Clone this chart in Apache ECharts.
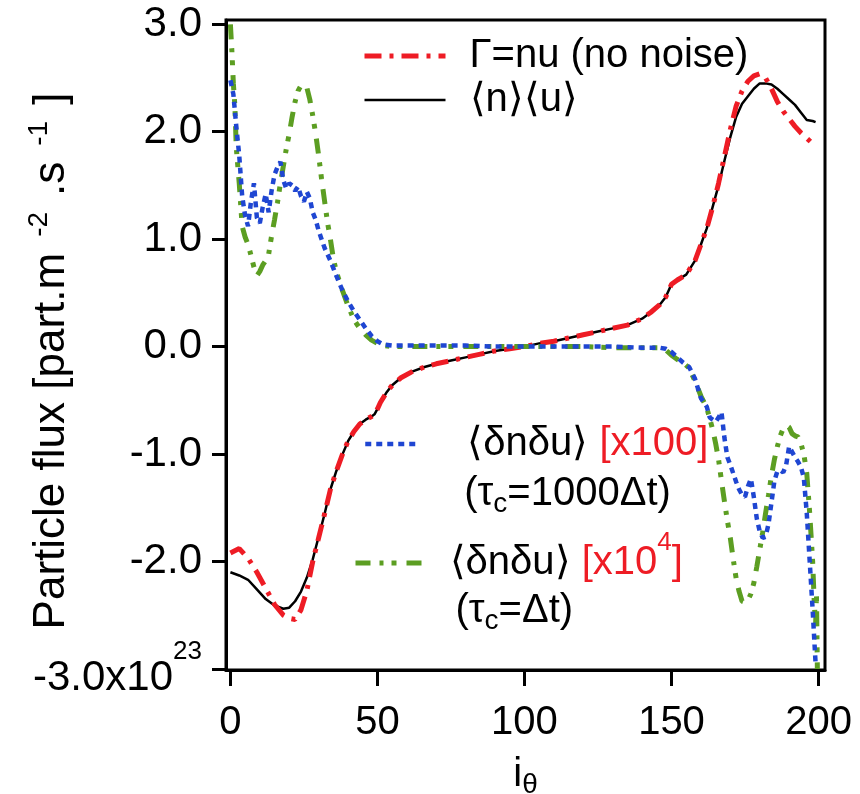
<!DOCTYPE html>
<html>
<head>
<meta charset="utf-8">
<script src="https://cdn.jsdelivr.net/npm/echarts@6/dist/echarts.min.js"></script>
<style>
  html, body { margin: 0; padding: 0; background: #fff; }
  #chart { width: 860px; height: 794px; }
</style>
</head>
<body>
<div id="chart"></div>
<script>
// i_theta positions for the two smooth mean-flux curves
const thetaMean = [0, 3, 6, 9, 12, 15, 18,
  20, 22, 24, 26, 28, 30, 32, 34, 36, 38, 40, 42, 44, 46, 48,
  49, 50, 51, 53, 55, 58, 62, 66, 70, 75, 80, 85, 90, 95, 100,
  105, 110, 115, 120, 125, 130, 135, 140, 143, 146, 148, 149, 150, 152, 155, 158, 160,
  162, 164, 166, 168, 170, 172, 174, 176, 178, 180, 182, 184, 186, 188, 190, 192, 194, 196, 198, 199]

// Gamma = nu (no noise)
const fluxNoNoise = [-1.92, -1.88, -1.97, -2.10, -2.25, -2.40, -2.50,
  -2.53, -2.54, -2.45, -2.27, -2.00, -1.78, -1.56, -1.33, -1.16, -1.01, -0.88, -0.79, -0.72, -0.68, -0.65,
  -0.63, -0.58, -0.52, -0.43, -0.36, -0.29, -0.23, -0.19, -0.16, -0.13, -0.10, -0.07, -0.04, -0.02, 0.00,
  0.03, 0.05, 0.08, 0.11, 0.14, 0.17, 0.20, 0.26, 0.32, 0.39, 0.46, 0.52, 0.58, 0.62, 0.67, 0.80, 0.95,
  1.10, 1.30, 1.52, 1.77, 2.02, 2.24, 2.38, 2.47, 2.52, 2.54, 2.50, 2.40, 2.28, 2.19, 2.12, 2.05, 1.99, 1.94, 1.89, 1.89]

// <n><u>
const fluxMean = [-2.10, -2.13, -2.17, -2.26, -2.35, -2.41, -2.44,
  -2.43, -2.37, -2.28, -2.15, -1.98, -1.77, -1.56, -1.33, -1.16, -1.01, -0.88, -0.79, -0.72, -0.68, -0.65,
  -0.63, -0.58, -0.52, -0.43, -0.36, -0.29, -0.23, -0.19, -0.16, -0.13, -0.10, -0.07, -0.04, -0.02, 0.00,
  0.03, 0.05, 0.08, 0.11, 0.14, 0.17, 0.20, 0.26, 0.32, 0.39, 0.46, 0.52, 0.58, 0.62, 0.67, 0.80, 0.95,
  1.10, 1.30, 1.50, 1.73, 1.95, 2.14, 2.26, 2.33, 2.40, 2.45, 2.45, 2.44, 2.40, 2.35, 2.30, 2.25, 2.18, 2.11, 2.10, 2.09]

// <dn du> x100, tau_c = 1000 dt
const thetaTau1000 = [0, 1, 2, 3, 4, 5, 6, 7, 8, 9,
  10, 11, 12, 13, 14, 15, 16, 17, 18, 19,
  20, 21, 22, 23, 24, 25, 26, 27, 28, 29,
  30, 31, 32,
  34, 36, 38, 40, 42, 44, 46, 48, 50, 52,
  55, 60, 70, 80, 90, 100, 110, 120, 130, 140,
  146, 148, 150, 152, 154, 156, 158, 160, 162,
  163, 164, 165, 166, 167, 168, 169, 170, 171, 172,
  173, 174, 175, 176, 177, 178, 179, 180, 181, 182,
  183, 184, 185, 186, 187, 188, 189, 190, 191, 192,
  193, 194, 195, 196, 197, 198, 199]
const fluxTau1000 = [2.48, 2.35, 2.05, 1.78, 1.40, 1.22, 1.12, 1.35, 1.52, 1.20,
  1.15, 1.30, 1.42, 1.25, 1.45, 1.60, 1.67, 1.72, 1.55, 1.47,
  1.52, 1.50, 1.45, 1.49, 1.40, 1.35, 1.44, 1.38, 1.25, 1.18,
  1.08, 1.00, 0.92,
  0.80, 0.66, 0.53, 0.42, 0.33, 0.25, 0.17, 0.10, 0.05, 0.02,
  0.01, 0.01, 0.01, 0.01, 0.00, 0.00, 0.00, 0.00, 0.00, -0.01,
  -0.01, -0.02, -0.05, -0.10, -0.15, -0.19, -0.30, -0.48, -0.56,
  -0.66, -0.68, -0.70, -0.66, -0.61, -0.85, -1.03, -1.10, -1.18, -1.26,
  -1.33, -1.38, -1.40, -1.30, -1.23, -1.40, -1.60, -1.72, -1.78, -1.77,
  -1.65, -1.45, -1.25, -1.16, -1.15, -1.17, -1.10, -0.93, -0.98, -1.03,
  -1.07, -1.12, -1.22, -1.55, -2.00, -2.45, -2.95]

// <dn du> x10^4, tau_c = dt
const thetaTau1 = [0, 0.5, 1, 1.5, 2, 3, 4, 5, 6, 7,
  8, 9, 10, 11, 12, 13, 14, 15, 16, 17,
  18, 19, 20, 21, 22, 23, 24, 25, 26, 27,
  28, 29, 30, 31, 32, 33, 34, 35, 36, 38,
  40, 42, 44, 46, 48, 50, 52, 55, 60, 70,
  80, 90, 100, 110, 120, 130, 140, 146, 148, 150,
  152, 154, 156, 158, 160, 162, 164, 165, 166, 167,
  168, 169, 170, 171, 172, 173, 174, 175, 176, 177,
  178, 179, 180, 181, 182, 183, 184, 185, 186, 187,
  188, 189, 190, 191, 192, 193, 194, 195, 196, 197,
  198, 198.5, 199, 199.3, 199.6]
const fluxTau1 = [3.00, 2.75, 2.45, 2.25, 1.85, 1.52, 1.12, 1.02, 0.95, 0.85,
  0.74, 0.66, 0.70, 0.76, 0.80, 0.86, 1.03, 1.18, 1.34, 1.52,
  1.68, 1.84, 1.98, 2.14, 2.28, 2.38, 2.43, 2.44, 2.41, 2.30,
  2.15, 1.98, 1.78, 1.56, 1.36, 1.16, 1.00, 0.82, 0.70, 0.53,
  0.38, 0.25, 0.17, 0.11, 0.06, 0.03, 0.01, 0.00, 0.00, 0.00,
  0.00, 0.00, 0.00, 0.00, 0.00, -0.01, -0.01, -0.01, -0.03, -0.08,
  -0.12, -0.15, -0.20, -0.32, -0.46, -0.57, -0.77, -0.90, -1.05, -1.25,
  -1.44, -1.62, -1.78, -1.98, -2.16, -2.28, -2.37, -2.38, -2.36, -2.30,
  -2.20, -2.05, -1.89, -1.73, -1.55, -1.38, -1.20, -1.05, -0.93, -0.83,
  -0.76, -0.73, -0.75, -0.81, -0.83, -0.84, -0.90, -1.00, -1.18, -1.55,
  -2.00, -2.35, -2.60, -2.30, -3.00]

const xTicks = [0, 50, 100, 150, 200]
const yTicks = [-3, -2, -1, 0, 1, 2, 3]
const seriesNames = ['Γ=nu (no noise)', '⟨n⟩⟨u⟩', '⟨δnδu⟩ [x100]', '⟨δnδu⟩ [x10⁴]']

const FONT = '"Liberation Sans", Arial, Helvetica, sans-serif'
const RED = '#ee1c25'
const BLUE = '#1f46d2'
const GREEN = '#5c9e22'

const pairs = (xs, ys) => xs.map((x, i) => [x, ys[i]])

// rich text pieces shared by the legends
const legendRich = {
  g1: { width: 19, lineHeight: 45 },
  g2: { width: 42, lineHeight: 50 },
  g3: { width: 39, lineHeight: 50 },
  g4: { width: 20, lineHeight: 48 },
  g5: { width: 26, lineHeight: 48 },
  t: { fontSize: 40, fontFamily: FONT, color: '#000', lineHeight: 45, verticalAlign: 'middle' },
  t2: { fontSize: 40, fontFamily: FONT, color: '#000', lineHeight: 50, verticalAlign: 'middle' },
  r2: { fontSize: 40, fontFamily: FONT, color: RED, lineHeight: 50, verticalAlign: 'middle' },
  sub2: { fontSize: 28, fontFamily: FONT, color: '#000', lineHeight: 50, verticalAlign: 'middle', padding: [20, 0, 0, 0] },
  h2: { fontSize: 40, fontFamily: FONT, color: 'transparent', lineHeight: 50 },
  t3: { fontSize: 40, fontFamily: FONT, color: '#000', lineHeight: 48, verticalAlign: 'middle' },
  r3: { fontSize: 40, fontFamily: FONT, color: RED, lineHeight: 48, verticalAlign: 'middle' },
  sup3: { fontSize: 26, fontFamily: FONT, color: RED, lineHeight: 48, verticalAlign: 'middle', padding: [0, 0, 40, 0] },
  sub3: { fontSize: 28, fontFamily: FONT, color: '#000', lineHeight: 48, verticalAlign: 'middle', padding: [20, 0, 0, 0] },
  h3: { fontSize: 40, fontFamily: FONT, color: 'transparent', lineHeight: 48 }
}

const chart = echarts.init(document.getElementById('chart'), null, { renderer: 'canvas' })

chart.setOption({
  animation: false,
  backgroundColor: '#fff',
  textStyle: { fontFamily: FONT },
  grid: {
    left: 226, right: 35, top: 20, bottom: 124,
    show: true, borderColor: '#000', borderWidth: 3,
    containLabel: false, outerBoundsMode: 'none'
  },
  legend: [
    {
      data: [seriesNames[0], seriesNames[1]],
      orient: 'vertical', left: 362, top: 36, padding: 0,
      itemWidth: 81, itemHeight: 12, itemGap: 4,
      selectedMode: false,
      itemStyle: { opacity: 0 },
      lineStyle: { width: 'inherit' },
      formatter: name => '{g1| }{t|' + name + '}',
      textStyle: { rich: legendRich }
    },
    {
      data: [seriesNames[2]],
      orient: 'vertical', left: 363, top: 374, padding: 0,
      itemWidth: 55, itemHeight: 12,
      selectedMode: false,
      itemStyle: { opacity: 0 },
      lineStyle: { width: 'inherit' },
      formatter: () => '{h2|.}\n{g2| }{t2|⟨δnδu⟩ }{r2|[x100]}\n{g3| }{t2|(τ}{sub2|c}{t2|=1000Δt)}',
      textStyle: { rich: legendRich }
    },
    {
      data: [seriesNames[3]],
      orient: 'vertical', left: 353, top: 495, padding: 0,
      itemWidth: 69, itemHeight: 12,
      selectedMode: false,
      itemStyle: { opacity: 0 },
      lineStyle: { width: 'inherit' },
      formatter: () => '{h3|.}\n{g4| }{t3|⟨δnδu⟩ }{r3|[x10}{sup3|4}{r3|]}\n{g5| }{t3|(τ}{sub3|c}{t3|=Δt)}',
      textStyle: { rich: legendRich }
    }
  ],
  xAxis: {
    type: 'value',
    min: -1.5,
    max: 202.2,
    name: '{i|i}{th|θ}',
    nameLocation: 'middle',
    nameGap: 83,
    nameMoveOverlap: false,
    nameTextStyle: {
      rich: {
        i: { fontSize: 40, fontFamily: FONT, color: '#000', lineHeight: 44 },
        th: { fontSize: 28, fontFamily: FONT, color: '#000', lineHeight: 44, padding: [20, 0, 0, 0] }
      }
    },
    axisLine: { show: true, onZero: false, lineStyle: { color: '#000', width: 3 } },
    axisTick: { show: true, length: 16, customValues: xTicks, lineStyle: { color: '#000', width: 3 } },
    axisLabel: {
      customValues: xTicks,
      margin: 31,
      fontSize: 40,
      fontFamily: FONT,
      color: '#000',
      lineHeight: 44
    },
    splitLine: { show: false }
  },
  yAxis: {
    type: 'value',
    min: -3.01,
    max: 3.04,
    name: '{a|Particle flux [part.m}{s|-2}{a|.s}{s|-1}{a|]}',
    nameLocation: 'middle',
    nameRotate: 90,
    nameGap: 151,
    nameMoveOverlap: false,
    nameTextStyle: {
      padding: [0, 32, 0, 0],
      rich: {
        a: { fontSize: 44, fontFamily: FONT, color: '#000', lineHeight: 46, verticalAlign: 'middle' },
        s: { fontSize: 28, fontFamily: FONT, color: '#000', lineHeight: 46, verticalAlign: 'middle', padding: [0, 16, 26, 16] }
      }
    },
    axisLine: { show: true, onZero: false, lineStyle: { color: '#000', width: 3 } },
    axisTick: { show: true, length: 14, customValues: yTicks, lineStyle: { color: '#000', width: 3 } },
    axisLabel: {
      customValues: yTicks,
      margin: 24,
      formatter: v => v === -3 ? '{m|-3.0x10}{e|23}' : '{n|' + v.toFixed(1) + '}',
      rich: {
        n: { fontSize: 42, fontFamily: FONT, color: '#000', lineHeight: 44, verticalAlign: 'middle' },
        m: { fontSize: 42, fontFamily: FONT, color: '#000', lineHeight: 44, verticalAlign: 'middle', padding: [18, 0, 0, 0] },
        e: { fontSize: 26, fontFamily: FONT, color: '#000', lineHeight: 44, verticalAlign: 'middle', padding: [0, 0, 34, 0] }
      }
    },
    splitLine: { show: false }
  },
  series: [
    {
      name: seriesNames[1],
      type: 'line',
      symbol: 'none',
      data: pairs(thetaMean, fluxMean),
      lineStyle: { color: '#000', width: 2.5, type: 'solid' },
      itemStyle: { color: '#000' },
      z: 2
    },
    {
      name: seriesNames[0],
      type: 'line',
      symbol: 'none',
      data: pairs(thetaMean, fluxNoNoise),
      lineStyle: { color: RED, width: 5, type: [17, 8, 4, 8] },
      itemStyle: { color: RED },
      z: 3
    },
    {
      name: seriesNames[3],
      type: 'line',
      symbol: 'none',
      data: pairs(thetaTau1, fluxTau1),
      lineStyle: { color: GREEN, width: 5, type: [15, 9, 4, 8, 5, 10] },
      itemStyle: { color: GREEN },
      z: 4
    },
    {
      name: seriesNames[2],
      type: 'line',
      symbol: 'none',
      data: pairs(thetaTau1000, fluxTau1000),
      lineStyle: { color: BLUE, width: 4.5, type: [6, 5] },
      itemStyle: { color: BLUE },
      z: 5
    }
  ]
})
</script>
</body>
</html>
